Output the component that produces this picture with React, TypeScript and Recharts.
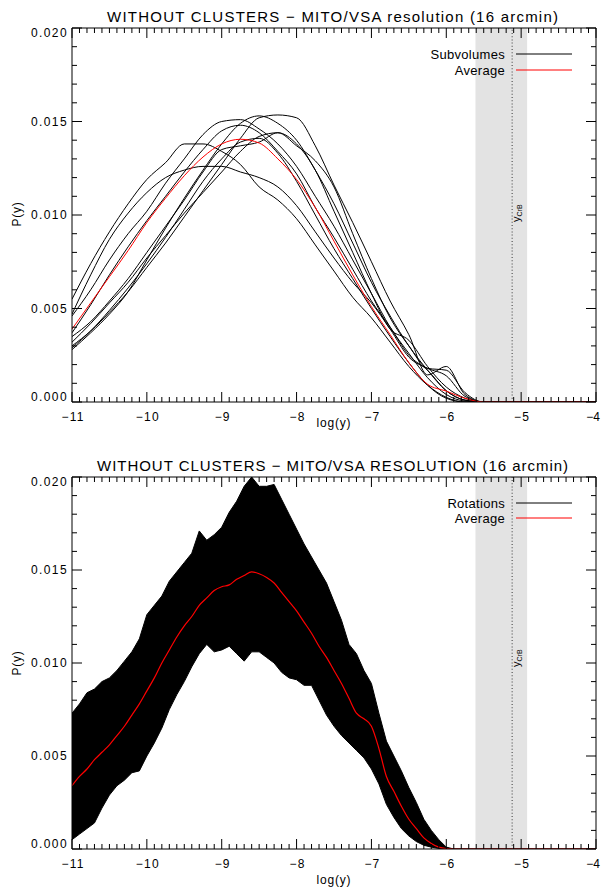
import React from 'react';
import { ComposedChart, Line, Area, XAxis, YAxis, ReferenceArea, ReferenceLine } from 'recharts';

// P(y) values are in units of 1e-3, log(y) on the x axis
const subX = [-11, -10.75, -10.5, -10.25, -10, -9.75, -9.5, -9.25, -9, -8.75, -8.5, -8.25, -8, -7.75, -7.5, -7.25, -7, -6.75, -6.5, -6.25, -6, -5.75, -5.5, -5, -4.5, -4];
const sub1 = [5.5, 7.4, 9.1, 10.6, 11.9, 12.8, 13.8, 13.8, 13.4, 12.7, 11.5, 10.8, 9.8, 8.4, 7.0, 5.6, 4.5, 3.2, 1.9, 0.9, 0.25, 0, 0, 0, 0, 0];
const sub2 = [4.7, 6.8, 8.7, 10.1, 11.2, 12.0, 12.4, 12.6, 12.6, 12.3, 12.0, 11.5, 10.5, 9.1, 7.7, 6.4, 5.3, 3.9, 2.4, 1.8, 1.4, 0.3, 0, 0, 0, 0];
const sub3 = [4.6, 6.0, 7.6, 9.0, 10.2, 11.7, 13.0, 14.3, 15.0, 15.1, 14.6, 13.8, 12.6, 11.0, 9.4, 7.6, 5.8, 4.0, 2.6, 1.3, 0.4, 0.05, 0, 0, 0, 0];
const sub4 = [3.7, 5.2, 6.8, 8.3, 9.7, 11.0, 12.3, 13.5, 14.5, 14.8, 14.4, 13.4, 12.2, 10.4, 8.8, 7.1, 5.4, 4.0, 2.5, 1.7, 0.6, 0.1, 0, 0, 0, 0];
const sub5 = [3.0, 3.8, 4.8, 5.9, 7.2, 8.5, 9.9, 11.3, 12.7, 14.1, 15.2, 15.35, 15.2, 13.7, 11.6, 9.6, 7.5, 5.4, 3.6, 1.45, 1.9, 0.4, 0, 0, 0, 0];
const sub6 = [2.8, 3.7, 4.7, 5.9, 7.6, 9.3, 10.9, 12.4, 13.8, 14.9, 15.3, 14.9, 14.0, 12.4, 10.6, 8.5, 6.4, 4.6, 3.0, 1.7, 0.6, 0.1, 0, 0, 0, 0];
const sub7 = [3.5, 4.3, 5.4, 6.6, 8.0, 9.4, 10.8, 12.3, 13.5, 13.7, 13.9, 14.4, 13.8, 12.4, 10.2, 8.0, 5.8, 3.9, 3.3, 1.9, 0.8, 0.2, 0, 0, 0, 0];
const sub8 = [2.9, 3.8, 4.9, 6.1, 7.4, 8.8, 10.3, 11.8, 13.0, 13.9, 14.1, 13.3, 11.8, 10.0, 8.2, 6.6, 5.0, 3.5, 2.1, 0.9, 0.2, 0, 0, 0, 0, 0];
const sub9 = [3.2, 4.2, 5.3, 6.4, 7.7, 8.9, 10.1, 11.2, 12.3, 13.4, 14.2, 14.4, 13.7, 12.9, 11.5, 9.0, 6.6, 4.5, 3.0, 1.8, 1.7, 0.5, 0, 0, 0, 0];
const subAvg = [3.9, 5.3, 6.7, 8.1, 9.6, 10.9, 12.1, 13.1, 13.8, 14.05, 13.85, 13.0, 11.9, 10.4, 8.6, 6.8, 5.1, 3.6, 2.1, 0.95, 0.58, 0.2, 0, 0, 0, 0];
const subCurves = [sub1, sub2, sub3, sub4, sub5, sub6, sub7, sub8, sub9];

// rotations: envelope of all the curves plus their average
const rotX = [
  -11, -10.9, -10.8, -10.7, -10.6, -10.5, -10.4, -10.3, -10.2, -10.1,
  -10, -9.9, -9.8, -9.7, -9.6, -9.5, -9.4, -9.3, -9.2, -9.1,
  -9, -8.9, -8.8, -8.7, -8.6, -8.5, -8.4, -8.3, -8.2, -8.1,
  -8, -7.9, -7.8, -7.7, -7.6, -7.5, -7.4, -7.3, -7.2, -7.1,
  -7, -6.9, -6.8, -6.7, -6.6, -6.5, -6.4, -6.3, -6.2, -6.1,
  -6, -5.9, -5.5, -5, -4.5, -4,
];
const rotHigh = [
  7.3, 7.8, 8.4, 8.6, 9.0, 9.2, 9.6, 10.1, 10.6, 11.3,
  12.6, 13.1, 13.6, 14.4, 14.9, 15.4, 15.9, 17.1, 16.6, 16.9,
  17.3, 18.1, 18.7, 19.5, 20.0, 19.5, 19.5, 19.6, 18.8, 18.0,
  17.2, 16.4, 15.7, 15.0, 14.3, 13.3, 12.3, 11.0, 10.5, 9.6,
  8.9, 7.3, 5.8, 5.0, 4.2, 3.3, 2.5, 1.6, 1.0, 0.5,
  0.1, 0, 0, 0, 0, 0,
];
const rotLow = [
  0.5, 0.8, 1.1, 1.4, 2.2, 2.9, 3.4, 3.7, 4.1, 4.2,
  5.0, 5.7, 6.5, 7.5, 8.3, 9.0, 9.8, 10.5, 11.0, 10.6,
  10.7, 10.9, 10.5, 10.1, 10.6, 10.6, 10.3, 10.0, 9.5, 9.2,
  9.1, 8.8, 8.8, 8.0, 7.2, 6.6, 6.1, 5.7, 5.3, 4.9,
  4.3, 3.5, 2.4, 1.7, 1.1, 0.7, 0.4, 0.2, 0.1, 0.03,
  0, 0, 0, 0, 0, 0,
];
const rotAvg = [
  3.4, 3.9, 4.3, 4.8, 5.2, 5.6, 6.1, 6.6, 7.2, 7.8,
  8.5, 9.2, 10.0, 10.7, 11.4, 12.0, 12.5, 13.1, 13.5, 13.9,
  14.1, 14.2, 14.5, 14.7, 14.9, 14.8, 14.6, 14.3, 13.8, 13.3,
  12.8, 12.2, 11.6, 10.9, 10.3, 9.6, 8.9, 8.1, 7.3, 7.0,
  6.6, 5.4, 3.9, 3.1, 2.3, 1.6, 1.1, 0.6, 0.3, 0.1,
  0.02, 0, 0, 0, 0, 0,
];

const xMajor = [-11, -10, -9, -8, -7, -6, -5, -4];
const yMajor = [0, 5, 10, 15, 20];
const xTicks = Array.from({ length: 71 }, (_, i) => Math.round((-11 + i * 0.1) * 10) / 10);
const yTicks = Array.from({ length: 21 }, (_, i) => i);

const crbBand = [-5.61, -4.92];
const crbLine = -5.12;

const subRows = subX.map((x, i) => {
  const row: any = { x, avg: subAvg[i] };
  subCurves.forEach((c, k) => (row['s' + k] = c[i]));
  return row;
});
const rotRows = rotX.map((x, i) => ({ x, band: [rotLow[i], rotHigh[i]], avg: rotAvg[i] }));

const font = "'Liberation Sans', Arial, Helvetica, sans-serif";
const fmtX = (v: number) => (v < 0 ? '\u2212' + Math.abs(v) : String(v));
const fmtY = (v: number) => (v / 1000).toFixed(3);

function BottomTick(p: any) {
  const v = p.payload.value;
  const major = xMajor.includes(v);
  const last = v === xMajor[xMajor.length - 1];
  return (
    <g>
      <line x1={p.x} x2={p.x} y1={p.y} y2={p.y - (major ? 10 : 5)} stroke="#000" />
      {major && (
        <text x={last ? 600 : p.x + 1} y={p.y + 19} textAnchor={last ? 'end' : 'middle'} fontFamily={font}
          fontSize={12} letterSpacing={last ? 0 : 1.2} fill="#000">
          {fmtX(v)}
        </text>
      )}
    </g>
  );
}

function TopTick(p: any) {
  const major = xMajor.includes(p.payload.value);
  return <line x1={p.x} x2={p.x} y1={p.y} y2={p.y + (major ? 10 : 5)} stroke="#000" />;
}

function LeftTick(p: any) {
  const v = p.payload.value;
  const major = yMajor.includes(v);
  const shift = v === 0 ? -5 : v === 20 ? 5 : 0;
  return (
    <g>
      <line x1={p.x} x2={p.x + (major ? 10 : 5)} y1={p.y} y2={p.y} stroke="#000" />
      {major && (
        <text x={p.x - 4} y={p.y + 4 + shift} textAnchor="end" fontFamily={font} fontSize={12} letterSpacing={1.4} fill="#000">
          {fmtY(v)}
        </text>
      )}
    </g>
  );
}

function RightTick(p: any) {
  const major = yMajor.includes(p.payload.value);
  return <line x1={p.x} x2={p.x - (major ? 10 : 5)} y1={p.y} y2={p.y} stroke="#000" />;
}

const crbLabel = (offset: number) => (p: any) => {
  const vb = p.viewBox;
  const x = vb.x + 8;
  const y = vb.y + offset;
  return (
    <text x={x} y={y} transform={`rotate(-90 ${x} ${y})`} fontFamily={font} fontSize={11} fill="#000">
      y<tspan fontSize={7} dy={2}>CrB</tspan>
    </text>
  );
};

// axes get a 1px box (recharts skips 0-sized axes); margins are reduced by that pixel
function Panel({ top, height, margin, rows, crbOffset, children }: any) {
  return (
    <div style={{ position: 'absolute', left: 0, top }}>
      <ComposedChart width={601} height={height} data={rows} margin={margin}>
        <XAxis type="number" dataKey="x" domain={[-11, -4]} ticks={xTicks} interval={0} allowDataOverflow
          height={1} tickSize={0} tickMargin={0} tickLine={false} axisLine={{ stroke: '#000' }} tick={BottomTick} />
        <XAxis xAxisId="top" orientation="top" type="number" dataKey="x" domain={[-11, -4]} ticks={xTicks} interval={0}
          allowDataOverflow height={1} tickSize={0} tickMargin={0} tickLine={false} axisLine={{ stroke: '#000' }} tick={TopTick} />
        <YAxis type="number" domain={[0, 20]} ticks={yTicks} interval={0} allowDataOverflow width={1}
          tickSize={0} tickMargin={0} tickLine={false} axisLine={{ stroke: '#000' }} tick={LeftTick} />
        <YAxis yAxisId="right" orientation="right" type="number" domain={[0, 20]} ticks={yTicks} interval={0}
          allowDataOverflow width={1} tickSize={0} tickMargin={0} tickLine={false} axisLine={{ stroke: '#000' }} tick={RightTick} />
        <ReferenceArea x1={crbBand[0]} x2={crbBand[1]} fill="#e3e3e3" fillOpacity={1} stroke="none" />
        <ReferenceLine x={crbLine} stroke="#555" strokeWidth={1.2} strokeDasharray="1 2.2" label={crbLabel(crbOffset)} />
        {children}
      </ComposedChart>
    </div>
  );
}

export default function App() {
  return (
    <div style={{ position: 'absolute', left: 0, top: 0, width: 601, height: 892, background: '#fff' }}>
      <Panel top={0} height={440} margin={{ top: 27, right: 4, bottom: 37, left: 71 }} rows={subRows} crbOffset={194}>
        {subCurves.map((_, k) => (
          <Line key={k} dataKey={'s' + k} type="monotone" stroke="#000" strokeWidth={1} dot={false} isAnimationActive={false} />
        ))}
        <Line dataKey="avg" type="monotone" stroke="#ff0000" strokeWidth={1} dot={false} isAnimationActive={false} />
      </Panel>
      <Panel top={440} height={452} margin={{ top: 36, right: 4, bottom: 42, left: 71 }} rows={rotRows} crbOffset={190}>
        <Area dataKey="band" type="linear" stroke="#000" strokeWidth={1} fill="#000" fillOpacity={1} isAnimationActive={false} />
        <Line dataKey="avg" type="monotone" stroke="#ff0000" strokeWidth={1.2} dot={false} isAnimationActive={false} />
      </Panel>
      <svg width={601} height={892} style={{ position: 'absolute', left: 0, top: 0, pointerEvents: 'none' }}
        fontFamily={font} fill="#000">
        <text x={107} y={22} fontSize={15} textLength={451} lengthAdjust="spacing">
          WITHOUT CLUSTERS {'\u2212'} MITO/VSA resolution (16 arcmin)
        </text>
        <text x={97} y={471} fontSize={15} textLength={471} lengthAdjust="spacing">
          WITHOUT CLUSTERS {'\u2212'} MITO/VSA RESOLUTION (16 arcmin)
        </text>
        <text x={334} y={427} fontSize={12} textAnchor="middle" letterSpacing={0.8}>log(y)</text>
        <text x={334} y={884} fontSize={12} textAnchor="middle" letterSpacing={0.8}>log(y)</text>
        <text x={21} y={214} fontSize={12} textAnchor="middle" letterSpacing={0.8} transform="rotate(-90 21 214)">P(y)</text>
        <text x={21} y={663} fontSize={12} textAnchor="middle" letterSpacing={0.8} transform="rotate(-90 21 663)">P(y)</text>
        <text x={505} y={58.5} fontSize={13} textAnchor="end" letterSpacing={0.3}>Subvolumes</text>
        <text x={505} y={74.5} fontSize={13} textAnchor="end" letterSpacing={0.3}>Average</text>
        <line x1={516} x2={572} y1={54} y2={54} stroke="#000" />
        <line x1={516} x2={572} y1={70} y2={70} stroke="#ff0000" />
        <text x={505} y={507.5} fontSize={13} textAnchor="end" letterSpacing={0.3}>Rotations</text>
        <text x={505} y={522.5} fontSize={13} textAnchor="end" letterSpacing={0.3}>Average</text>
        <line x1={516} x2={572} y1={503} y2={503} stroke="#000" />
        <line x1={516} x2={572} y1={518} y2={518} stroke="#ff0000" strokeWidth={1.2} />
      </svg>
    </div>
  );
}
